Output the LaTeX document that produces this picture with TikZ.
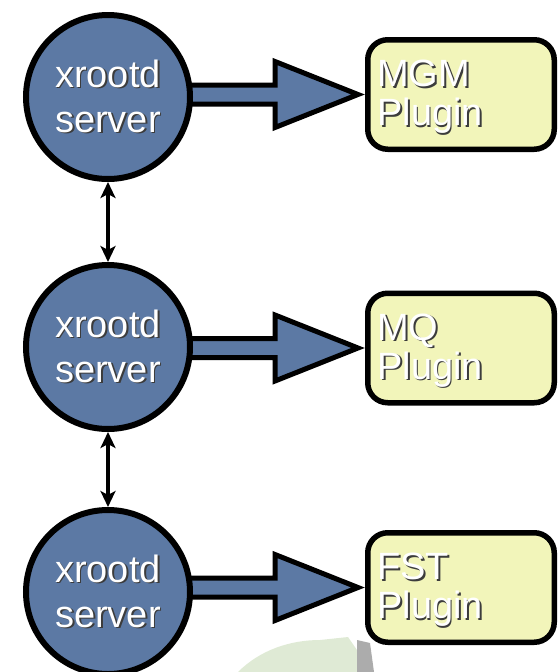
\documentclass[tikz,border=0pt]{standalone}
\usepackage{fontspec}
\setmainfont{Liberation Sans}
\usetikzlibrary{arrows.meta,calc,backgrounds}
\definecolor{srvblue}{RGB}{92,121,164}
\definecolor{plugyellow}{RGB}{242,245,186}
\definecolor{shadowgray}{RGB}{60,60,60}
\definecolor{bggreen}{RGB}{223,234,213}
\newcommand{\shtxt}[1]{\leavevmode\rlap{\kern1.8pt\raisebox{-1.8pt}{\textcolor{shadowgray}{#1}}}\textcolor{white}{#1}}
\begin{document}
\begin{tikzpicture}[x=1pt,y=-1pt,
  server/.style={circle, draw=black, line width=6pt, fill=srvblue, minimum size=164pt, inner sep=0pt, align=center, font=\fontsize{38}{45}\selectfont},
  plugin/.style={rectangle, rounded corners=20pt, draw=black, line width=5.5pt, fill=plugyellow, text width=167.5pt, inner xsep=9.5pt, inner ysep=0pt, minimum height=109.5pt, align=left, font=\fontsize{38}{39}\selectfont},
  link/.style={line width=4.5pt, {Stealth[length=16pt,width=15pt,inset=4pt]}-{Stealth[length=16pt,width=15pt,inset=4pt]}},
  blockarrow/.style={draw=black, line width=5pt, fill=srvblue, line join=miter, miter limit=10}
]
\useasboundingbox (0,0) rectangle (558,672);

\node[server] (s1) at (108,97) {\shtxt{xrootd}\\\shtxt{server}};
\node[server] (s2) at (108,347) {\shtxt{xrootd}\\\shtxt{server}};
\node[server] (s3) at (108,592) {\shtxt{xrootd}\\\shtxt{server}};

\node[plugin] (p1) at (461,94.5) {\rule{0pt}{33pt}\shtxt{MGM}\\\shtxt{Plugin}};
\node[plugin] (p2) at (461,348) {\rule{0pt}{33pt}\shtxt{MQ}\\\shtxt{Plugin}};
\node[plugin] (p3) at (461,587.5) {\rule{0pt}{33pt}\shtxt{FST}\\\shtxt{Plugin}};

\draw[link] (s1) -- (s2);
\draw[link] (s2) -- (s3);

\begin{scope}[on background layer]
  \fill[bggreen] (238,672) .. controls (260,650) and (290,640) .. (320,640) -- (348,637) -- (357,650) -- (357,672) -- cycle;
  \fill[gray!65] (357,640) -- (370,643) -- (374,672) -- (357,672) -- cycle;
  \foreach \srv/\plg in {s1/p1, s2/p2, s3/p3} {
    \draw[blockarrow] let \p1=(\srv.center), \p2=(\plg.west) in
      (\x1+70pt,\y2+9.5pt) -- (\x2-90pt,\y2+9.5pt) -- (\x2-90pt,\y2+33pt)
      -- (\x2-7pt,\y2) -- (\x2-90pt,\y2-33pt) -- (\x2-90pt,\y2-9.5pt)
      -- (\x1+70pt,\y2-9.5pt) -- cycle;
  }
\end{scope}
\end{tikzpicture}
\end{document}
